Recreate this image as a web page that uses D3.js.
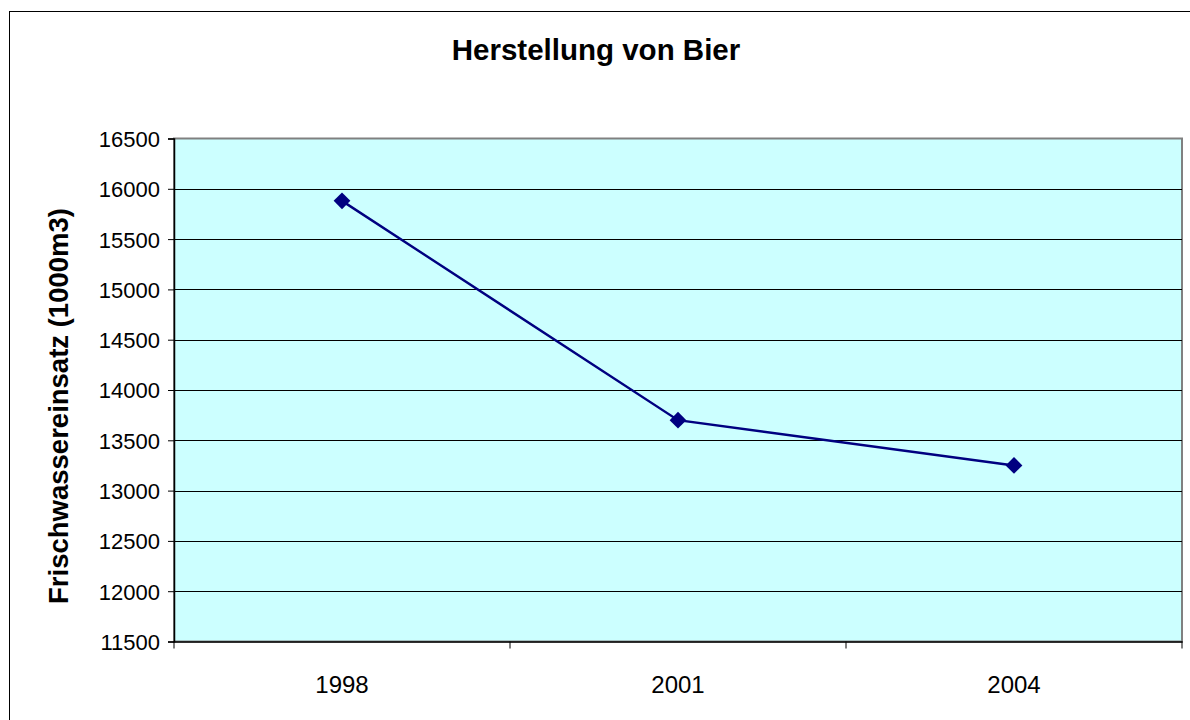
<!DOCTYPE html>
<html><head><meta charset="utf-8">
<script src="https://cdn.jsdelivr.net/npm/d3@7"></script>
<style>body{margin:0;background:#fff;} svg{display:block;font-family:"Liberation Sans",Arial,sans-serif;}</style>
</head><body>
<svg id="c" width="1190" height="720"></svg>
<script>
const title = "Herstellung von Bier";
const yTitle = "Frischwassereinsatz (1000m3)";
const categories = ["1998", "2001", "2004"];
const values = [15880, 13700, 13250];
const yTicks = [11500,12000,12500,13000,13500,14000,14500,15000,15500,16000,16500];

const svg = d3.select("#c");
const L = 174, R = 1182, T = 138.5, B = 641.5;
const FF = "Liberation Sans, Arial, sans-serif";

svg.append("rect").attr("x",9.5).attr("y",11.5).attr("width",1300).attr("height",800)
  .attr("fill","#fff").attr("stroke","#000").attr("stroke-width",1);

const x = d3.scaleBand().domain(categories).range([L,R]).padding(0);
const y = d3.scaleLinear().domain([11500,16500]).range([B,T]);

svg.append("rect").attr("x",L).attr("y",T).attr("width",R-L).attr("height",B-T)
  .attr("fill","#CCFFFF").attr("stroke","#808080").attr("stroke-width",2);

// gridlines
svg.append("g").selectAll("line").data(yTicks.slice(1,-1)).join("line")
  .attr("x1",L).attr("x2",R).attr("y1",d=>Math.round(y(d))+0.5).attr("y2",d=>Math.round(y(d))+0.5)
  .attr("stroke","#000").attr("stroke-width",1);

// y axis
const ya = svg.append("g").attr("transform",`translate(${L},0)`)
  .call(d3.axisLeft(y).tickValues(yTicks).tickSize(6).tickPadding(8).tickFormat(d3.format("d")));
ya.attr("font-size",22).attr("font-family",FF);
ya.select(".domain").attr("stroke","#000").attr("stroke-width",1.5);
ya.selectAll(".tick line").attr("stroke","#000");
ya.selectAll("text").attr("fill","#000").attr("dy","0.36em");

// x axis
const xa = svg.append("g").attr("transform",`translate(0,${B})`)
  .call(d3.axisBottom(x).tickSize(0).tickPadding(0));
xa.attr("font-size",24).attr("font-family",FF);
xa.select(".domain").attr("stroke","#000").attr("stroke-width",1.5);
xa.selectAll("text").attr("fill","#000").attr("y",51).attr("dy",0);
const bounds = categories.map(c=>x(c)).concat([R]);
svg.append("g").selectAll("line").data(bounds).join("line")
  .attr("x1",d=>d).attr("x2",d=>d).attr("y1",B).attr("y2",B+7).attr("stroke","#000").attr("stroke-width",1);

// line
const cx = d=>x(d)+x.bandwidth()/2;
svg.append("path").datum(categories.map((c,i)=>[cx(c),y(values[i])]))
  .attr("d",d3.line()).attr("fill","none").attr("stroke","#000080").attr("stroke-width",2.4);
svg.append("g").selectAll("path").data(categories).join("path")
  .attr("d",d3.symbol(d3.symbolSquare,140))
  .attr("transform",(c,i)=>`translate(${cx(c)},${y(values[i])}) rotate(45)`)
  .attr("fill","#000080");

// titles
svg.append("text").attr("x",596).attr("y",60).attr("text-anchor","middle")
  .attr("font-size",29.5).attr("font-weight","bold").attr("font-family",FF).text(title);
svg.append("text").attr("transform","translate(68,406) rotate(-90)").attr("text-anchor","middle")
  .attr("font-size",27.5).attr("font-weight","bold").attr("font-family",FF).text(yTitle);
</script>
</body></html>
